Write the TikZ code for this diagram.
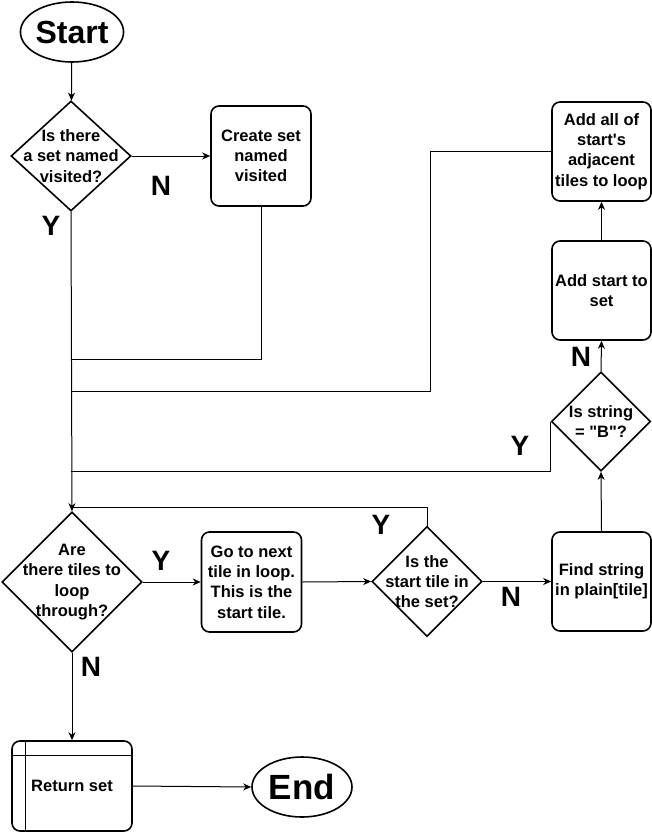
\documentclass[tikz,border=0pt]{standalone}
\usepackage{fontspec}
\setmainfont{Liberation Sans}[Ligatures=TeXOff]
\usetikzlibrary{shapes.geometric,arrows.meta}
\begin{document}
\begin{tikzpicture}[x=1pt,y=-1pt,
  shapeline/.style={draw=black,line width=1.6pt},
  txt/.style={font=\fontsize{16.5}{20.3}\selectfont\bfseries,align=center},
  terminal/.style={shapeline,ellipse,inner sep=0pt,minimum width=100pt,minimum height=60pt},
  stepbox/.style={shapeline,rounded corners=8pt,rectangle,inner sep=0pt,txt,
    minimum width=#1,minimum height=#1},
  decision/.style={shapeline,diamond,inner sep=0pt,aspect=1},
  conn/.style={line width=1pt,draw=black},
  arr/.style={conn,-{Stealth[length=8pt,width=7pt,inset=2.5pt]}},
  yn/.style={font=\fontsize{28}{30}\selectfont\bfseries,inner sep=0pt}
]
\useasboundingbox (0,0) rectangle (652,832);

% terminals
\node[terminal,font=\fontsize{32}{36}\selectfont\bfseries] (start) at (72,32) {Start};
\node[terminal,font=\fontsize{35}{40}\selectfont\bfseries] (end) at (302,787) {End};

% decisions
\node[decision,minimum width=120pt,minimum height=110pt,
  label={[txt]center:Is there\\a set named\\visited?}] (d1) at (71,156) {};
\node[decision,minimum width=140pt,minimum height=140pt,
  label={[txt]center:Are\\there tiles to\\loop\\through?}] (d2) at (72,582) {};
\node[decision,minimum width=110pt,minimum height=110pt,
  label={[txt]center:Is the\\start tile in\\the set?}] (d3) at (427,581.5) {};
\node[decision,minimum width=99pt,minimum height=99pt,
  label={[txt]center:Is string\\= "B"?}] (isstr) at (601,421.5) {};

% process steps
\node[stepbox=100pt] (create) at (261,156) {Create set\\named\\visited};
\node[stepbox=99pt] (addall) at (601.5,151.5) {Add all of\\start's\\adjacent\\tiles to loop};
\node[stepbox=99pt] (addstart) at (601.5,290.5) {Add start to\\set};
\node[stepbox=100pt] (go) at (251.5,582) {Go to next\\tile in loop.\\This is the\\start tile.};
\node[stepbox=99pt] (find) at (601.5,581.5) {Find string\\in plain[tile]};

% return step with inner rules
\node[shapeline,rounded corners=8pt,rectangle,inner sep=0pt,txt,
  minimum width=120pt,minimum height=90pt] (ret) at (72,786) {Return set};
\draw[line width=1.4pt] ([xshift=14pt]ret.north west) -- ([xshift=14pt]ret.south west);
\draw[line width=1.4pt] ([yshift=-15pt]ret.north west) -- ([yshift=-15pt]ret.north east);

% junction points on the main vertical line
\coordinate (m1) at (71,359);
\coordinate (m2) at (71,391);
\coordinate (m3) at (71,471);
\coordinate (m4) at (71,507);

% connectors
\draw[arr] (start) -- (d1);
\draw[arr] (d1.east) -- (create.west);
\draw[arr] (d1.south) -- (d2.north);
\draw[conn] (create.south) |- (m1);
\draw[conn] (addall.west) -- ++(-121,0) |- (m2);
\draw[conn] (isstr.west) |- (m3);
\draw[conn] (d3.north) |- (m4);
\draw[arr] (d2.east) -- (go.west);
\draw[arr] (go.east) -- (d3.west);
\draw[arr] (d3.east) -- (find.west);
\draw[arr] (find.north) -- (isstr.south);
\draw[arr] (isstr.north) -- (addstart.south);
\draw[arr] (addstart.north) -- (addall.south);
\draw[arr] (d2.south) -- (ret.north);
\draw[arr] (ret.east) -- (end.west);

% branch labels
\node[yn] (n1) at (161,186) {N};
\node[yn] (y1) at (51,226) {Y};
\node[yn] (n2) at (581,357) {N};
\node[yn] (y2) at (520,446) {Y};
\node[yn] (y3) at (161,561) {Y};
\node[yn] (n3) at (91,667) {N};
\node[yn] (y4) at (381,525) {Y};
\node[yn] (n4) at (511,597) {N};
\end{tikzpicture}
\end{document}
